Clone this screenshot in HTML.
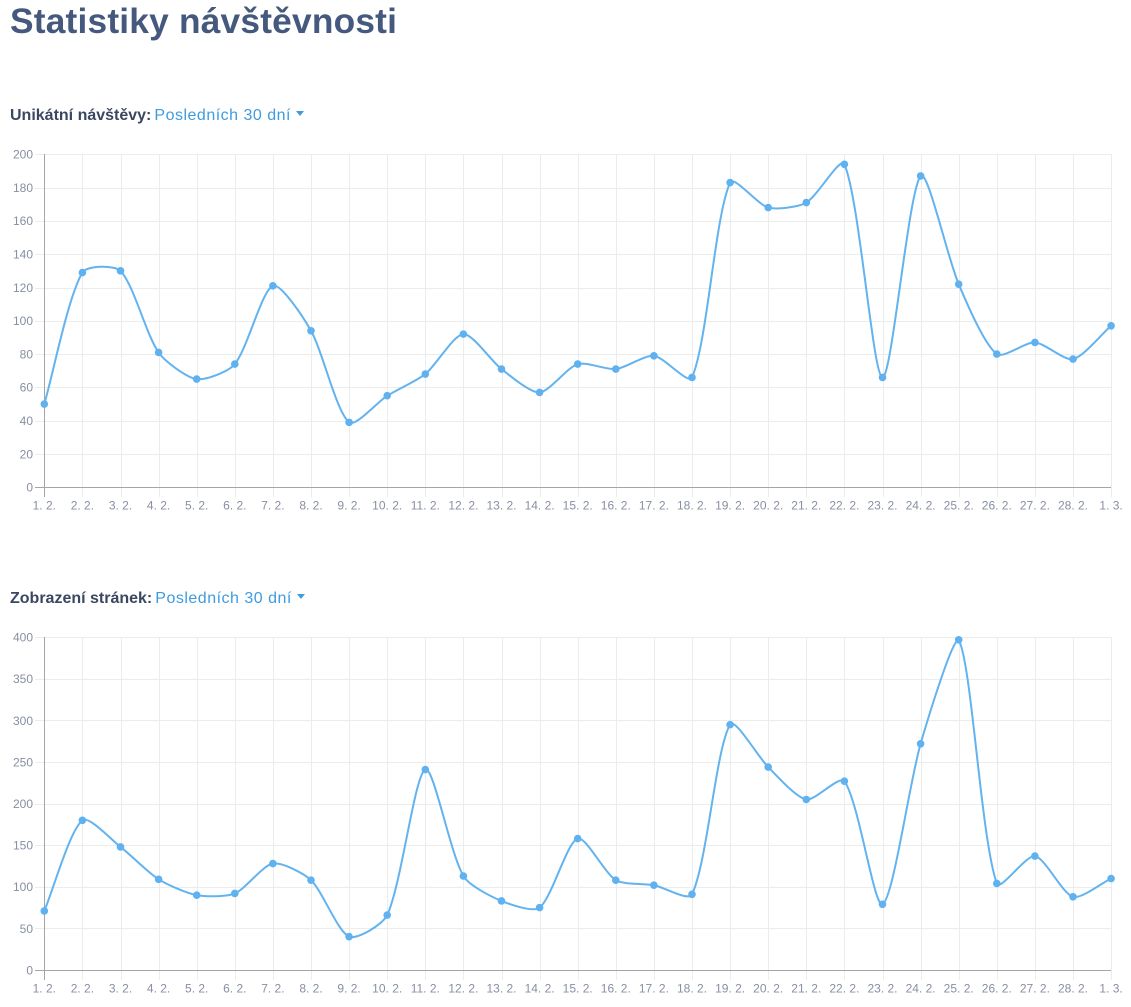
<!DOCTYPE html>
<html>
<head>
<meta charset="utf-8">
<style>
  html, body { margin:0; padding:0; background:#ffffff; }
  body { width:1131px; height:1007px; position:relative; overflow:hidden; font-family:"Liberation Sans", sans-serif; }
  h1 { position:absolute; left:10px; top:0px; margin:0; font-size:35.3px; line-height:44px; font-weight:bold; color:#45597e; letter-spacing:0.2px; }
  .hdr { position:absolute; left:10px; font-size:16px; line-height:20px; white-space:nowrap; }
  .hdr b { color:#3b4761; font-weight:bold; }
  .hdr span { color:#3f9be0; letter-spacing:0.5px; margin-left:3px; }
  .caret { display:inline-block; width:0; height:0; border-left:4.5px solid transparent; border-right:4.5px solid transparent; border-top:5px solid #3f9be0; vertical-align:middle; margin-left:5px; position:relative; top:-2px; }
  svg { position:absolute; left:0; top:0; }
  svg text { font-family:"Liberation Sans", sans-serif; font-size:12px; fill:#878fa2; }
</style>
</head>
<body>
<h1>Statistiky návštěvnosti</h1>
<div class="hdr" style="top:106px;"><b>Unikátní návštěvy:</b><span>Posledních 30 dní</span><i class="caret"></i></div>
<div class="hdr" style="top:589px;"><b>Zobrazení stránek:</b><span>Posledních 30 dní</span><i class="caret"></i></div>

<svg width="1131" height="1007" viewBox="0 0 1131 1007" xmlns="http://www.w3.org/2000/svg">
  <g id="grid1" stroke="#ececec" stroke-width="1"></g>
  <g id="grid2" stroke="#ececec" stroke-width="1"></g>
  <!-- axes chart 1 -->
  <line x1="44.5" y1="154" x2="44.5" y2="497" stroke="#a5a5a5" stroke-width="1"/>
  <line x1="35" y1="487.5" x2="1111" y2="487.5" stroke="#a5a5a5" stroke-width="1"/>
  <!-- axes chart 2 -->
  <line x1="44.5" y1="637" x2="44.5" y2="980" stroke="#a5a5a5" stroke-width="1"/>
  <line x1="35" y1="970.5" x2="1111" y2="970.5" stroke="#a5a5a5" stroke-width="1"/>

  <!-- y labels chart 1 -->
  <g text-anchor="end">
    <text x="33" y="158.6">200</text>
    <text x="33" y="191.9">180</text>
    <text x="33" y="225.2">160</text>
    <text x="33" y="258.5">140</text>
    <text x="33" y="291.8">120</text>
    <text x="33" y="325.1">100</text>
    <text x="33" y="358.4">80</text>
    <text x="33" y="391.7">60</text>
    <text x="33" y="425">40</text>
    <text x="33" y="458.3">20</text>
    <text x="33" y="491.6">0</text>
  </g>
  <!-- y labels chart 2 -->
  <g text-anchor="end">
    <text x="33" y="641.6">400</text>
    <text x="33" y="683.2">350</text>
    <text x="33" y="724.8">300</text>
    <text x="33" y="766.4">250</text>
    <text x="33" y="808">200</text>
    <text x="33" y="849.6">150</text>
    <text x="33" y="891.2">100</text>
    <text x="33" y="932.8">50</text>
    <text x="33" y="974.4">0</text>
  </g>
  <!-- x labels chart 1 -->
  <g text-anchor="middle">
    <text x="44.3" y="509.5">1. 2.</text>
    <text x="82.4" y="509.5">2. 2.</text>
    <text x="120.5" y="509.5">3. 2.</text>
    <text x="158.6" y="509.5">4. 2.</text>
    <text x="196.7" y="509.5">5. 2.</text>
    <text x="234.8" y="509.5">6. 2.</text>
    <text x="272.9" y="509.5">7. 2.</text>
    <text x="311.0" y="509.5">8. 2.</text>
    <text x="349.1" y="509.5">9. 2.</text>
    <text x="387.2" y="509.5">10. 2.</text>
    <text x="425.3" y="509.5">11. 2.</text>
    <text x="463.4" y="509.5">12. 2.</text>
    <text x="501.5" y="509.5">13. 2.</text>
    <text x="539.6" y="509.5">14. 2.</text>
    <text x="577.7" y="509.5">15. 2.</text>
    <text x="615.8" y="509.5">16. 2.</text>
    <text x="653.9" y="509.5">17. 2.</text>
    <text x="692.0" y="509.5">18. 2.</text>
    <text x="730.1" y="509.5">19. 2.</text>
    <text x="768.2" y="509.5">20. 2.</text>
    <text x="806.3" y="509.5">21. 2.</text>
    <text x="844.4" y="509.5">22. 2.</text>
    <text x="882.5" y="509.5">23. 2.</text>
    <text x="920.6" y="509.5">24. 2.</text>
    <text x="958.7" y="509.5">25. 2.</text>
    <text x="996.8" y="509.5">26. 2.</text>
    <text x="1034.9" y="509.5">27. 2.</text>
    <text x="1073.0" y="509.5">28. 2.</text>
    <text x="1111.1" y="509.5">1. 3.</text>
  </g>
  <!-- x labels chart 2 -->
  <g text-anchor="middle">
    <text x="44.3" y="992.5">1. 2.</text>
    <text x="82.4" y="992.5">2. 2.</text>
    <text x="120.5" y="992.5">3. 2.</text>
    <text x="158.6" y="992.5">4. 2.</text>
    <text x="196.7" y="992.5">5. 2.</text>
    <text x="234.8" y="992.5">6. 2.</text>
    <text x="272.9" y="992.5">7. 2.</text>
    <text x="311.0" y="992.5">8. 2.</text>
    <text x="349.1" y="992.5">9. 2.</text>
    <text x="387.2" y="992.5">10. 2.</text>
    <text x="425.3" y="992.5">11. 2.</text>
    <text x="463.4" y="992.5">12. 2.</text>
    <text x="501.5" y="992.5">13. 2.</text>
    <text x="539.6" y="992.5">14. 2.</text>
    <text x="577.7" y="992.5">15. 2.</text>
    <text x="615.8" y="992.5">16. 2.</text>
    <text x="653.9" y="992.5">17. 2.</text>
    <text x="692.0" y="992.5">18. 2.</text>
    <text x="730.1" y="992.5">19. 2.</text>
    <text x="768.2" y="992.5">20. 2.</text>
    <text x="806.3" y="992.5">21. 2.</text>
    <text x="844.4" y="992.5">22. 2.</text>
    <text x="882.5" y="992.5">23. 2.</text>
    <text x="920.6" y="992.5">24. 2.</text>
    <text x="958.7" y="992.5">25. 2.</text>
    <text x="996.8" y="992.5">26. 2.</text>
    <text x="1034.9" y="992.5">27. 2.</text>
    <text x="1073.0" y="992.5">28. 2.</text>
    <text x="1111.1" y="992.5">1. 3.</text>
  </g>

  <g id="series1"></g>
  <g id="series2"></g>
</svg>

<script>
(function(){
  var NS = "http://www.w3.org/2000/svg";
  var X0 = 44.3, STEP = 38.1;
  function el(name, attrs, parent){
    var e = document.createElementNS(NS, name);
    for (var k in attrs) e.setAttribute(k, attrs[k]);
    parent.appendChild(e);
    return e;
  }
  function grid(gid, top, bottom, n){
    var g = document.getElementById(gid);
    for (var i = 1; i < 29; i++){
      var x = Math.round(X0 + i*STEP) + 0.5;
      el("line", {x1:x, y1:top, x2:x, y2:bottom+10}, g);
    }
    for (var j = 0; j < n; j++){
      var y = Math.round(top + j*(bottom-top)/n) + 0.5;
      el("line", {x1:35, y1:y, x2:1111, y2:y}, g);
    }
  }
  grid("grid1", 154.3, 487.3, 10);
  grid("grid2", 637.3, 970, 8);

  function series(gid, data, top, bottom, max){
    var g = document.getElementById(gid);
    var pts = data.map(function(v,i){ return {x: X0 + i*STEP, y: bottom - v/max*(bottom-top)}; });
    var t = 0.25;
    var cps = pts.map(function(p,i){
      var prev = i>0 ? pts[i-1] : p;
      var next = i<pts.length-1 ? pts[i+1] : p;
      var d01 = Math.hypot(p.x-prev.x, p.y-prev.y);
      var d12 = Math.hypot(next.x-p.x, next.y-p.y);
      var s01 = d01/(d01+d12), s12 = d12/(d01+d12);
      if (isNaN(s01)) s01 = 0; if (isNaN(s12)) s12 = 0;
      var fa = t*s01, fb = t*s12;
      var pc = {x: p.x - fa*(next.x-prev.x), y: p.y - fa*(next.y-prev.y)};
      var nc = {x: p.x + fb*(next.x-prev.x), y: p.y + fb*(next.y-prev.y)};
      function cap(c){ c.y = Math.max(Math.min(c.y, bottom), top); c.x = Math.max(Math.min(c.x, 1111), X0); return c; }
      return {p: cap(pc), n: cap(nc)};
    });
    var d = "M" + pts[0].x.toFixed(2) + "," + pts[0].y.toFixed(2);
    for (var i = 1; i < pts.length; i++){
      var a = cps[i-1].n, b = cps[i].p, q = pts[i];
      d += " C" + a.x.toFixed(2) + "," + a.y.toFixed(2) + " " + b.x.toFixed(2) + "," + b.y.toFixed(2) + " " + q.x.toFixed(2) + "," + q.y.toFixed(2);
    }
    el("path", {d:d, fill:"none", stroke:"#62b3ef", "stroke-width":2, "stroke-linejoin":"round"}, g);
    pts.forEach(function(p){ el("circle", {cx:p.x, cy:p.y, r:3.8, fill:"#5fb1ef"}, g); });
  }
  series("series1", [50,129,130,81,65,74,121,94,39,55,68,92,71,57,74,71,79,66,183,168,171,194,66,187,122,80,87,77,97], 154.3, 487.3, 200);
  series("series2", [71,180,148,109,90,92,128,108,40,66,241,113,83,75,158,108,102,91,295,244,205,227,79,272,397,104,137,88,110], 637.3, 970, 400);
})();
</script>
</body>
</html>
